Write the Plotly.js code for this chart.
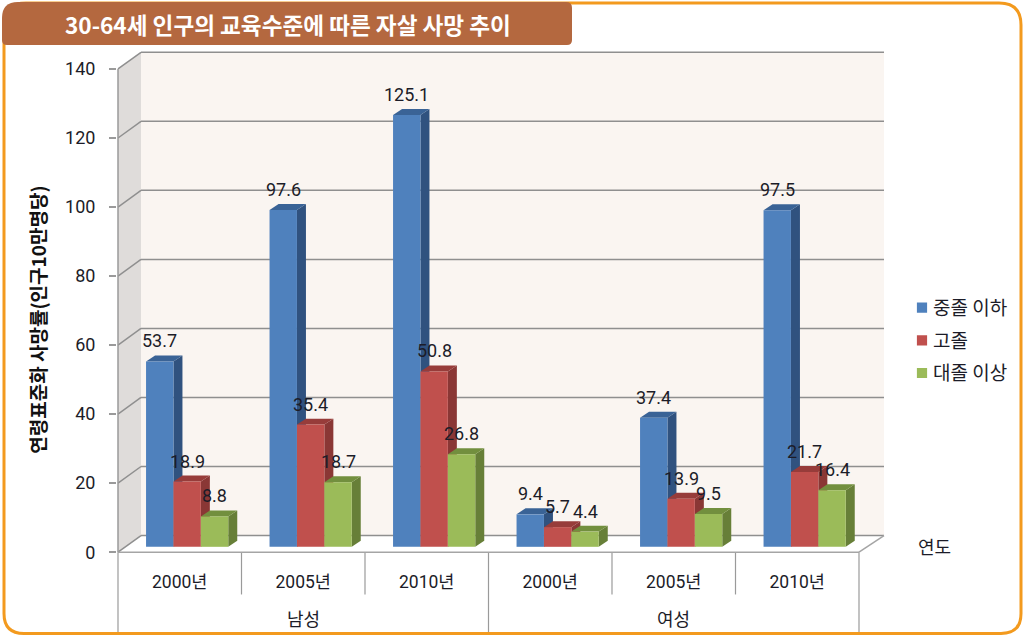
<!DOCTYPE html>
<html>
<head>
<meta charset="utf-8">
<script src="https://cdn.plot.ly/plotly-3.0.1.min.js"></script>
<style>html,body{margin:0;padding:0;background:#fff}#c{width:1024px;height:638px}</style>
</head>
<body>
<div id="c"></div>
<script>
var yearLabels = ['2000년','2005년','2010년','2000년','2005년','2010년'];
var sexLabels = ['남성','여성'];
var seriesNames = ['중졸 이하','고졸','대졸 이상'];
var lowEdu = [53.7,97.6,125.1,9.4,37.4,97.5];
var midEdu = [18.9,35.4,50.8,5.7,13.9,21.7];
var highEdu = [8.8,18.7,26.8,4.4,9.5,16.4];
var yTicks = [0,20,40,60,80,100,120,140];
var frontColors = ['#4F81BD','#C0504D','#9BBB59'];
var sideColors = ['#30527F','#8A3735','#677F38'];
var topColors = ['#3A6396','#973C3A','#728F3E'];

var W=1024,H=638;
var L=117,R=885,T=51,B=554.5;
var X0=118,GROUP=123.5,ZERO=552.7,UNIT=3.455;
var xMin=-0.5-(X0-L)/GROUP, xMax=-0.5+(R-X0)/GROUP;
var yMin=-(B-ZERO)/UNIT, yMax=(ZERO-T)/UNIT;
function dxPx(p){return p/GROUP;}
function dyPx(p){return p/UNIT;}
function paperX(p){return (p-L)/(R-L);}
function paperY(p){return (B-p)/(B-T);}

var font='Roboto,"Noto Sans CJK KR",sans-serif';
var kfont='"Noto Sans CJK KR",sans-serif';
var textCol='#1c1c28';
var gridCol='#8f8f8f';

var series=[lowEdu,midEdu,highEdu];
var xs=yearLabels.map(function(_,i){return i;});
var barW=dxPx(27.4), planeDx=dxPx(7.4), planeDy=dyPx(5.4), sideDx=dxPx(9), sideDy=dyPx(6);
var backDx=dxPx(23), backDy=dyPx(16.7);

var shapes=[];
function poly(pts,fill,layer){
  shapes.push({type:'path',xref:'x',yref:'y',layer:layer||'below',fillcolor:fill,line:{width:0},
    path:pts.map(function(p,i){return (i?'L':'M')+p[0]+','+p[1];}).join(' ')+' Z'});
}
function seg(x0,y0,x1,y1,c,w){
  shapes.push({type:'line',xref:'x',yref:'y',layer:'below',x0:x0,y0:y0,x1:x1,y1:y1,line:{color:c,width:w||1.5}});
}
// walls
var wallTop=140+backDy, wallX=-0.5+backDx, wallR=5.5+dxPx(25);
poly([[wallX,backDy],[wallX,wallTop],[wallR,wallTop],[wallR,backDy]],'#FAF5F1');
poly([[-0.5,0],[-0.5,140],[wallX,wallTop],[wallX,backDy]],'#DFDCDA');
yTicks.forEach(function(v){
  seg(-0.5,v,wallX,v+backDy,gridCol);
  seg(wallX,v+backDy,wallR,v+backDy,gridCol);
});
seg(-0.5,0,-0.5,140,'#9a9a9a');
seg(-0.5,0,5.5,0,'#a5a5a5');
seg(5.5,0,wallR,backDy,'#a5a5a5');
// bar depth faces
xs.forEach(function(i){
  series.forEach(function(vals,k){
    var v=vals[i]+planeDy, l=i+planeDx+(k-1.5)*barW, r=l+barW;
    poly([[r,planeDy],[r,v],[r+sideDx,v+sideDy],[r+sideDx,planeDy+sideDy]],sideColors[k]);
    poly([[l,v],[r,v],[r+sideDx,v+sideDy],[l+sideDx,v+sideDy]],topColors[k]);
  });
});
// category dividers
function divider(x,yEnd){
  shapes.push({type:'line',xref:'x',yref:'paper',layer:'below',x0:x,x1:x,y0:paperY(ZERO),y1:paperY(yEnd),line:{color:'#9a9a9a',width:1.2}});
}
[0.5,1.5,3.5,4.5].forEach(function(x){divider(x,595);});
[-0.5,2.5,5.5].forEach(function(x){divider(x,635);});
// banner and frame
function rounded(x0,y0,x1,y1,rTL,rTR,rBR,rBL){
  var X=paperX,Y=paperY;
  return 'M'+X(x0+rTL)+','+Y(y0)+' L'+X(x1-rTR)+','+Y(y0)+
   ' Q'+X(x1)+','+Y(y0)+' '+X(x1)+','+Y(y0+rTR)+' L'+X(x1)+','+Y(y1-rBR)+
   ' Q'+X(x1)+','+Y(y1)+' '+X(x1-rBR)+','+Y(y1)+' L'+X(x0+rBL)+','+Y(y1)+
   ' Q'+X(x0)+','+Y(y1)+' '+X(x0)+','+Y(y1-rBL)+' L'+X(x0)+','+Y(y0+rTL)+
   ' Q'+X(x0)+','+Y(y0)+' '+X(x0+rTL)+','+Y(y0)+' Z';
}
shapes.push({type:'path',xref:'paper',yref:'paper',layer:'above',path:rounded(4,3,1021,634,22,22,20,20),line:{color:'#F39A1E',width:3},fillcolor:'rgba(0,0,0,0)'});
shapes.push({type:'path',xref:'paper',yref:'paper',layer:'above',path:rounded(2,2,572,45,16,6,5,5),line:{width:0},fillcolor:'#B4683F'});

var traces=series.map(function(vals,k){
  return {type:'bar',name:seriesNames[k],legendgroup:seriesNames[k],x:xs,y:vals,base:planeDy,width:barW,
    offset:planeDx+(k-1.5)*barW,marker:{color:frontColors[k],line:{width:0}},hoverinfo:'y+name'};
});

var annotations=[];
xs.forEach(function(i){
  series.forEach(function(vals,k){
    annotations.push({xref:'x',yref:'y',x:i+planeDx+(k-1)*barW,y:vals[i]+planeDy,yshift:20.5,showarrow:false,
      xanchor:'center',yanchor:'middle',text:vals[i].toFixed(1),font:{family:font,size:18,color:textCol}});
  });
});
sexLabels.forEach(function(s,j){
  annotations.push({xref:'x',yref:'paper',x:1+3*j,y:paperY(620),showarrow:false,xanchor:'center',yanchor:'middle',
    text:s,font:{family:font,size:18,color:textCol}});
});
annotations.push({xref:'paper',yref:'paper',x:paperX(934),y:paperY(548),showarrow:false,xanchor:'center',yanchor:'middle',
  text:'연도',font:{family:font,size:18,color:textCol}});
annotations.push({xref:'paper',yref:'paper',x:paperX(38),y:paperY(320),showarrow:false,textangle:-90,xanchor:'center',yanchor:'middle',
  text:'<b>연령표준화 사망률(인구10만명당)</b>',font:{family:kfont,size:19,color:'#111'}});

var layout={
  width:W,height:H,
  margin:{l:L,r:W-R,t:T,b:H-B,pad:0,autoexpand:false},
  paper_bgcolor:'#fff',plot_bgcolor:'rgba(0,0,0,0)',
  barmode:'overlay',
  title:{text:'<b>30-64세 인구의 교육수준에 따른 자살 사망 추이</b>',x:65/W,xanchor:'left',xref:'container',y:1-26/H,yanchor:'middle',yref:'container',
    font:{family:'"Noto Sans CJK KR",sans-serif',size:22.6,color:'#fff'}},
  xaxis:{type:'linear',range:[xMin,xMax],tickmode:'array',tickvals:xs,ticktext:yearLabels,showgrid:false,zeroline:false,showline:false,
    ticks:'',ticklabelstandoff:15,tickfont:{family:font,size:17.5,color:textCol},fixedrange:true},
  yaxis:{range:[yMin,yMax],tickmode:'array',tickvals:yTicks,ticktext:yTicks.map(String),showgrid:false,zeroline:false,showline:false,
    ticks:'outside',ticklen:7,tickwidth:1.5,tickcolor:'#9a9a9a',ticklabelstandoff:10,tickfont:{family:font,size:18,color:textCol},fixedrange:true},
  showlegend:true,
  legend:{x:paperX(893),y:paperY(289),xanchor:'left',yanchor:'top',bgcolor:'rgba(0,0,0,0)',tracegroupgap:5,
    font:{family:kfont,size:19,color:textCol},itemclick:false,itemdoubleclick:false},
  shapes:shapes,annotations:annotations
};
Plotly.newPlot('c',traces,layout,{displayModeBar:false,staticPlot:true}).then(function(gd){
  // tuck the swatches next to their labels
  gd.querySelectorAll('.legend .legendpoints').forEach(function(g){
    g.setAttribute('transform','translate(12,0) scale(0.85)');
  });
});
</script>
</body>
</html>
